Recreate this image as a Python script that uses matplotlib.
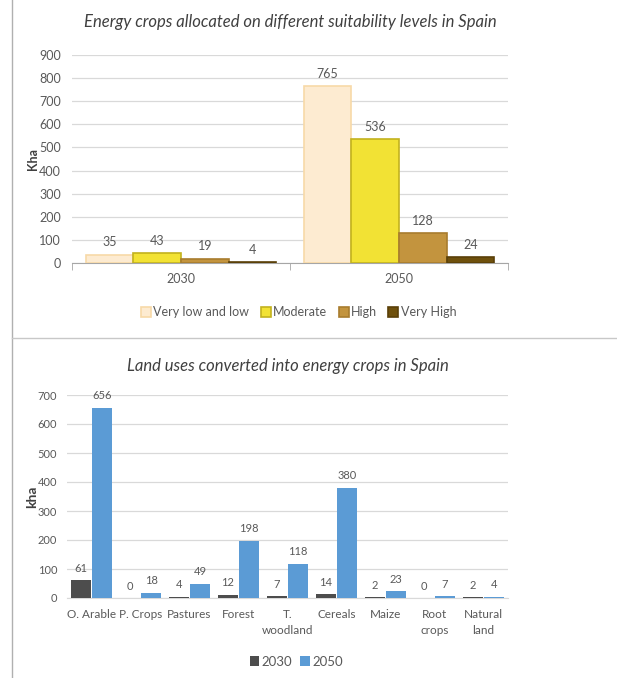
import matplotlib
matplotlib.use("Agg")
import matplotlib.pyplot as plt
import numpy as np
from matplotlib.lines import Line2D

plt.rcParams['font.family'] = ['Lato', 'DejaVu Sans']

# ---- data ----
years = ["2030", "2050"]
suit_levels = ["Very low and low", "Moderate", "High", "Very High"]
suit_values = {
    "Very low and low": [35, 765],
    "Moderate": [43, 536],
    "High": [19, 128],
    "Very High": [4, 24],
}
land_cats = ["O. Arable", "P. Crops", "Pastures", "Forest", "T.\nwoodland",
             "Cereals", "Maize", "Root\ncrops", "Natural\nland"]
land_2030 = [61, 0, 4, 12, 7, 14, 2, 0, 2]
land_2050 = [656, 18, 49, 198, 118, 380, 23, 7, 4]

suit_fill = ["#FDEBD1", "#F2E234", "#C3943E", "#6E500C"]
suit_edge = ["#F7D9A8", "#C2B21E", "#A87C2E", "#5A4008"]
txt = "#595959"
grid = "#D9D9D9"

fig = plt.figure(figsize=(6.17, 6.78), dpi=100)

# frame lines
fig.add_artist(Line2D([12/617, 12/617], [0, 1], color="#B0B0B0", lw=1.0))
fig.add_artist(Line2D([12/617, 1], [1-338/678, 1-338/678], color="#C8C8C8", lw=1.0))

# ---- top chart ----
ax1 = fig.add_axes([72/617, 1-263/678, 436/617, 208/678])
x = np.arange(len(years))
bw = 0.218
for i, lvl in enumerate(suit_levels):
    pos = x + (i - 1.5) * bw
    vals = suit_values[lvl]
    ax1.bar(pos, vals, bw, color=suit_fill[i], edgecolor=suit_edge[i],
            linewidth=1.2, label=lvl, zorder=3)
    for p, v in zip(pos, vals):
        ax1.text(p, v + 28, str(v), ha="center", va="bottom", fontsize=9,
                 color=txt, zorder=4)
ax1.set_ylim(0, 900)
ax1.set_xlim(-0.5, 1.5)
ax1.set_yticks(range(0, 901, 100))
ax1.yaxis.grid(True, color=grid, lw=0.9, zorder=0)
ax1.set_axisbelow(True)
ax1.set_xticks(x)
ax1.set_xticklabels(years, fontsize=9, color=txt)
ax1.tick_params(axis="x", length=0, pad=7)
ax1.set_xticks([-0.5, 0.5, 1.5], minor=True)
ax1.tick_params(axis="x", which="minor", length=5, color="#A6A6A6")
ax1.tick_params(axis="y", length=0, labelsize=9, labelcolor=txt, pad=8)
for s in ["top", "right", "left"]:
    ax1.spines[s].set_visible(False)
ax1.spines["bottom"].set_color("#A6A6A6")
ax1.set_ylabel("Kha", fontsize=9, fontweight="bold", color="#404040", labelpad=0)
ax1.set_title("Energy crops allocated on different suitability levels in Spain",
              fontsize=12, style="italic", color="#404040", pad=20)
ax1.legend(loc="upper center", bbox_to_anchor=(0.52, -0.155), ncol=4, frameon=False,
           fontsize=9, labelcolor=txt, handlelength=0.8, handleheight=0.8,
           handletextpad=0.2, columnspacing=0.9)

# ---- bottom chart ----
ax2 = fig.add_axes([67/617, 1-598/678, 441/617, 203/678])
x2 = np.arange(len(land_cats))
bw2 = 0.41
ax2.bar(x2 - bw2/2 - 0.01, land_2030, bw2, color="#4D4D4D", label="2030", zorder=3)
ax2.bar(x2 + bw2/2 + 0.01, land_2050, bw2, color="#5B9BD5", label="2050", zorder=3)
for p, v in zip(x2 - bw2/2 - 0.01, land_2030):
    ax2.text(p, max(v, 0) + 22, str(v), ha="center", va="bottom", fontsize=8, color=txt)
for p, v in zip(x2 + bw2/2 + 0.01, land_2050):
    ax2.text(p, v + 22, str(v), ha="center", va="bottom", fontsize=8, color=txt)
ax2.set_ylim(0, 700)
ax2.set_xlim(-0.5, len(land_cats) - 0.5)
ax2.set_yticks(range(0, 701, 100))
ax2.yaxis.grid(True, color=grid, lw=0.9, zorder=0)
ax2.set_axisbelow(True)
ax2.set_xticks(x2)
ax2.set_xticklabels(land_cats, fontsize=8.5, color=txt, linespacing=1.5)
ax2.tick_params(axis="x", length=0, pad=8)
ax2.tick_params(axis="y", length=0, labelsize=8, labelcolor=txt, pad=7)
for s in ["top", "right", "left"]:
    ax2.spines[s].set_visible(False)
ax2.spines["bottom"].set_color("#D9D9D9")
ax2.set_ylabel("kha", fontsize=10, fontweight="bold", color="#404040", labelpad=0)
ax2.set_title("Land uses converted into energy crops in Spain",
              fontsize=12, style="italic", color="#404040", pad=17)
ax2.legend(loc="upper center", bbox_to_anchor=(0.52, -0.225), ncol=2, frameon=False,
           fontsize=9.5, labelcolor=txt, handlelength=0.7, handleheight=0.7,
           handletextpad=0.2, columnspacing=0.6)

fig.savefig("out.png", dpi=100)
